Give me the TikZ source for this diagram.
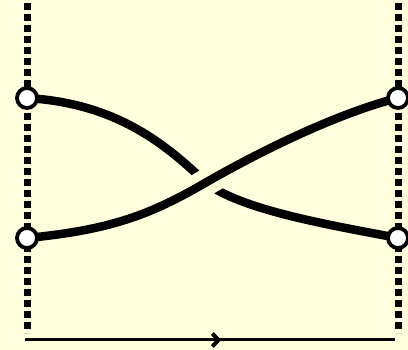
\documentclass[tikz,border=0pt]{standalone}
\usetikzlibrary{arrows.meta,decorations.markings}
\definecolor{bg}{RGB}{255,255,221}
\pgfdeclarelayer{fg}
\pgfsetlayers{main,fg}
\begin{document}
\begin{tikzpicture}[x=1pt,y=-1pt,
  strand/.style={line width=8.5pt,line cap=butt},
  halo/.style={line width=27pt,draw=bg},
  wall/.style={line width=7pt,dash pattern=on 7pt off 4pt,line cap=butt},
  endpt/.style={circle,draw,fill=white,line width=3.8pt,minimum size=20pt,inner sep=0pt},
  timearrow/.style={line width=3pt,postaction={decorate},
    decoration={markings,mark=at position 0.53 with {\arrow{Straight Barb[length=6pt,width=13pt,line width=4pt]}}}}]
\fill[bg] (0,0) rectangle (408,350);
\useasboundingbox (0,0) rectangle (408,350);
\coordinate (lt) at (27,3);
\coordinate (lb) at (27,333);
\coordinate (rt) at (398,3);
\coordinate (rb) at (398,333);
\coordinate (a0) at (25,340);
\coordinate (a1) at (395,340);
\begin{pgfonlayer}{fg}
\node[endpt] (l1) at (27,98) {};
\node[endpt] (l2) at (27,238) {};
\node[endpt] (r1) at (398,98) {};
\node[endpt] (r2) at (398,238) {};
\end{pgfonlayer}
% under strand
\draw[strand] (l1.center) .. controls (110,103) and (160,138) .. (205,182)
  .. controls (240,210) and (330,225) .. (r2.center);
% over strand with gap
\draw[halo] (150,215) .. controls (175,202) and (190,192) .. (205,183)
  .. controls (225,171) and (245,160) .. (262,151);
\draw[strand] (l2.center) .. controls (110,230) and (150,215) .. (205,183)
  .. controls (280,140) and (350,110) .. (r1.center);
% walls
\draw[wall] (lt) -- (lb);
\draw[wall] (rt) -- (rb);
\draw[timearrow] (a0) -- (a1);
\end{tikzpicture}
\end{document}
